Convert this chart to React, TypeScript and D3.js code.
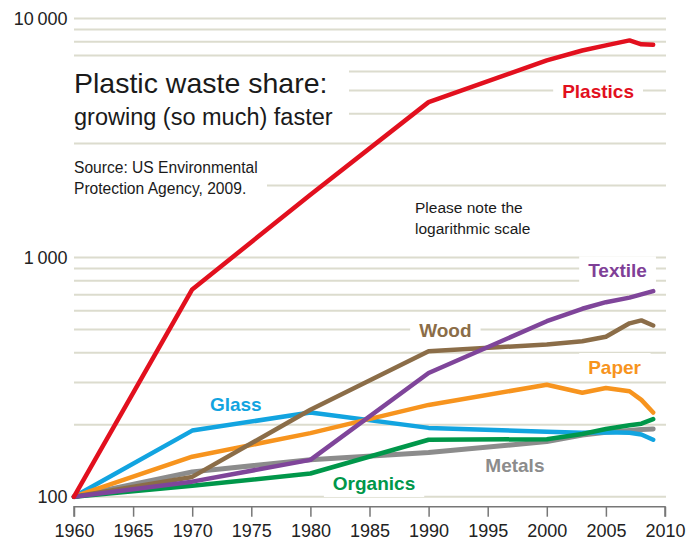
import React, { useEffect, useRef } from "react";
import * as d3 from "d3";

const years = [1960, 1970, 1980, 1990, 2000, 2003, 2005, 2007, 2008, 2009];
const plastics = [100, 736, 1830, 4470, 6680, 7350, 7720, 8100, 7800, 7770];
const textile = [100, 115.6, 142.6, 329, 542, 611, 651, 680, 702, 724];
const wood = [100, 121, 231, 406, 433, 447, 467, 531, 546, 520];
const paper = [100, 147, 184.5, 242, 294, 272, 285, 276, 254, 225];
const glass = [100, 189, 225, 194, 187, 185, 186, 185, 182, 173];
const organics = [100, 111, 125, 173, 174, 183, 192, 199, 202, 211];
const metals = [100, 127, 142.6, 153, 170, 181, 186, 189, 191, 192];

const xTicks = [1960, 1965, 1970, 1975, 1980, 1985, 1990, 1995, 2000, 2005, 2010];
const yTickValues = [100, 1000, 10000];
const yTickLabels = ["100", "1\u2009000", "10\u2009000"];

const seriesNames = ["Metals", "Glass", "Paper", "Wood", "Organics", "Textile", "Plastics"];
const seriesValues = [metals, glass, paper, wood, organics, textile, plastics];
const seriesColors = ["#8c8c8c", "#12a4e0", "#f7941e", "#8b6d48", "#00974a", "#7f459a", "#e2101e"];
const seriesWidths = [5, 4.5, 4.5, 4.5, 4.5, 4.5, 4.5];

// label anchor: [year, value] for text start (baseline)
const labelText = ["Plastics", "Textile", "Wood", "Paper", "Glass", "Organics", "Metals"];
const labelColor = ["#e2101e", "#7f3f97", "#8b6d48", "#f7941e", "#12a4e0", "#00974a", "#8c8c8c"];
const labelYear = [2001.3, 2003.5, 1989.2, 2003.5, 1971.5, 1981.9, 1994.8];
const labelValue = [4636, 827, 467, 326, 229, 106.7, 127.2];

const FONT = "'Liberation Sans', Arial, Helvetica, sans-serif";

export default function App() {
  const ref = useRef<SVGSVGElement>(null);

  useEffect(() => {
    const svg = d3.select(ref.current);
    svg.selectAll("*").remove();

    const x = d3.scaleLinear().domain([1960, 2010]).range([74, 665]);
    const y = d3.scaleLog().domain([100, 10000]).range([496.7, 18.5]);

    // gridlines
    const grid: number[] = [];
    [100, 1000].forEach((d) => {
      for (let m = 1; m <= 9; m++) grid.push(d * m);
    });
    grid.push(10000);
    svg
      .append("g")
      .selectAll("line")
      .data(grid)
      .join("line")
      .attr("x1", 74)
      .attr("x2", 666)
      .attr("y1", (d) => y(d))
      .attr("y2", (d) => y(d))
      .attr("stroke", "#dcdcce")
      .attr("stroke-width", 2);

    // y tick labels
    svg
      .append("g")
      .selectAll("text")
      .data(yTickValues)
      .join("text")
      .attr("x", 67.5)
      .attr("y", (d) => y(d))
      .attr("dy", "0.36em")
      .attr("text-anchor", "end")
      .attr("font-family", FONT)
      .attr("font-size", 18)
      .attr("fill", "#222")
      .text((d, i) => yTickLabels[i]);

    // title / source background boxes
    svg.append("rect").attr("x", 70).attr("y", 60).attr("width", 279).attr("height", 71).attr("fill", "#fff");
    svg.append("rect").attr("x", 70).attr("y", 152).attr("width", 197).attr("height", 48).attr("fill", "#fff");

    const title = svg.append("g").attr("font-family", FONT).attr("fill", "#1a1a1a");
    title.append("text").attr("x", 74).attr("y", 92.7).attr("font-size", 28.5).text("Plastic waste share:");
    title.append("text").attr("x", 74).attr("y", 125).attr("font-size", 23.5).text("growing (so much) faster");
    title.append("text").attr("x", 74).attr("y", 173.3).attr("font-size", 15.6).text("Source: US Environmental");
    title.append("text").attr("x", 74).attr("y", 194.3).attr("font-size", 15.6).text("Protection Agency, 2009.");
    title.append("text").attr("x", 415).attr("y", 213.3).attr("font-size", 15.5).text("Please note the");
    title.append("text").attr("x", 415).attr("y", 233.5).attr("font-size", 15.5).text("logarithmic scale");

    // label backgrounds + labels
    const labG = svg.append("g");
    const texts: { x: number; y: number; t: string; c: string }[] = labelText.map((t, i) => ({
      x: x(labelYear[i]),
      y: y(labelValue[i]),
      t,
      c: labelColor[i],
    }));
    const bgG = labG.append("g");
    const lineG = svg.append("g");
    const txtG = svg.append("g");
    texts.forEach((d) => {
      const tx = txtG
        .append("text")
        .attr("x", d.x)
        .attr("y", d.y)
        .attr("font-family", FONT)
        .attr("font-weight", "bold")
        .attr("font-size", 19)
        .attr("fill", d.c)
        .text(d.t);
      const bb = (tx.node() as SVGTextElement).getBBox();
      bgG
        .append("rect")
        .attr("x", bb.x - 9)
        .attr("y", d.y - 21)
        .attr("width", bb.width + 18)
        .attr("height", 28)
        .attr("fill", "#fff");
    });

    // lines
    const line = d3
      .line<number>()
      .x((d, i) => x(years[i]))
      .y((d) => y(d))
      .curve(d3.curveLinear);
    seriesValues.forEach((vals, i) => {
      lineG
        .append("path")
        .attr("d", line(vals) as string)
        .attr("fill", "none")
        .attr("stroke", seriesColors[i])
        .attr("stroke-width", seriesWidths[i])
        .attr("stroke-linejoin", "round")
        .attr("stroke-linecap", "round");
    });

    // x axis
    const ax = svg.append("g").attr("transform", "translate(0,506.7)");
    const axis = d3.axisBottom(x).tickValues(xTicks).tickFormat(d3.format("d")).tickSize(10).tickPadding(8);
    ax.call(axis as any);
    ax.select(".domain").attr("stroke", "#777").attr("stroke-width", 1.5).attr("d", "M74,10V0H665V10");
    ax.selectAll(".tick line").attr("stroke", "#777").attr("stroke-width", 1.5);
    ax.selectAll(".tick text")
      .attr("font-family", FONT)
      .attr("font-size", 18)
      .attr("fill", "#222");
  }, []);

  return (
    <svg
      ref={ref}
      width={693}
      height={548}
      style={{ position: "fixed", left: 0, top: 0, background: "#fff" }}
    />
  );
}
